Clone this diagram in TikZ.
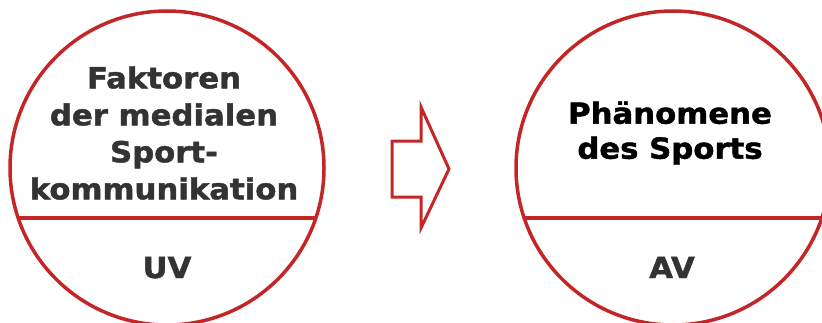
\documentclass[tikz,border=0pt]{standalone}
\usepackage{fontspec}
\setmainfont{DejaVu Sans}[FakeStretch=1.06, BoldFeatures={FakeBold=1.5}]

\definecolor{ringred}{RGB}{196,38,40}
\definecolor{txtgray}{RGB}{51,51,51}

\tikzset{
  ring/.style={draw=ringred, line width=3.5pt},
  lbl/.style={font=\fontsize{29}{37}\selectfont\bfseries, align=center, inner sep=0pt}
}

\begin{document}
\begin{tikzpicture}[x=1pt, y=1pt]
  \useasboundingbox (0,0) rectangle (822,322);
  \coordinate (L) at (167,154);
  \coordinate (R) at (673,154);

  % Kreise mit Trennlinie
  \draw[ring] (L) circle (157pt);
  \draw[ring] ([shift={(-148.8,-50)}]L) -- ([shift={(148.8,-50)}]L);
  \draw[ring] (R) circle (157pt);
  \draw[ring] ([shift={(-148.8,-50)}]R) -- ([shift={(148.8,-50)}]R);

  \node[lbl, text=txtgray] (uvtext) at (164,189) {Faktoren\\der medialen\\Sport-\\kommunikation};
  \node[lbl, text=txtgray, anchor=base] (uv) at (167,44) {UV};
  \node[lbl, text=black, font=\fontsize{29}{35}\selectfont\bfseries] (avtext) at (670,189) {Phänomene\\des Sports};
  \node[lbl, text=txtgray, anchor=base] (av) at (672,44) {AV};

  % Blockpfeil
  \draw[draw=ringred, line width=3pt, line join=miter]
    (392,181) -- (421,181) -- (421,215) -- (449,153) -- (421,94) -- (421,125) -- (392,125) -- cycle;
\end{tikzpicture}
\end{document}
